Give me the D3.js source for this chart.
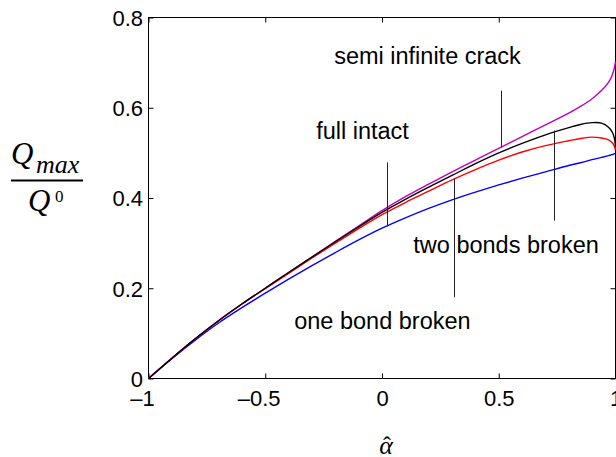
<!DOCTYPE html>
<html>
<head>
<meta charset="utf-8">
<script src="https://cdn.jsdelivr.net/npm/d3@7"></script>
<style>
  html, body { margin: 0; padding: 0; background: #fff; }
  svg { display: block; }
</style>
</head>
<body>
<svg id="chart" width="616" height="457"></svg>
<script>
// ---------- data ----------
const alphaHat = [-1, -0.9, -0.8, -0.7, -0.6, -0.5, -0.4, -0.3, -0.2, -0.1, 0, 0.1, 0.2, 0.3, 0.4, 0.5, 0.6, 0.7, 0.8, 0.85, 0.9, 0.94, 0.97, 0.985, 0.995, 1];

const semiInfiniteCrack = [0, 0.045, 0.088, 0.128, 0.165, 0.200, 0.235, 0.269, 0.304, 0.338, 0.372, 0.403, 0.431, 0.458, 0.484, 0.510, 0.536, 0.562, 0.588, 0.603, 0.620, 0.638, 0.656, 0.671, 0.688, 0.702];
const oneBondBroken     = [0, 0.044, 0.085, 0.123, 0.157, 0.189, 0.220, 0.250, 0.279, 0.307, 0.333, 0.356, 0.377, 0.396, 0.413, 0.429, 0.444, 0.458, 0.472, 0.478, 0.485, 0.490, 0.494, 0.496, 0.498, 0.499];
const twoBondsBroken    = [0, 0.045, 0.088, 0.128, 0.165, 0.199, 0.233, 0.267, 0.300, 0.332, 0.363, 0.390, 0.415, 0.440, 0.463, 0.484, 0.502, 0.516, 0.527, 0.532, 0.535, 0.533, 0.529, 0.523, 0.515, 0.506];
const fullIntact        = [0, 0.045, 0.088, 0.128, 0.165, 0.200, 0.235, 0.269, 0.303, 0.336, 0.368, 0.397, 0.424, 0.450, 0.476, 0.500, 0.521, 0.540, 0.556, 0.563, 0.567, 0.566, 0.557, 0.547, 0.533, 0.515];

const xTicks = [-1, -0.5, 0, 0.5, 1];
const yTicks = [0, 0.2, 0.4, 0.6, 0.8];

// annotation texts and leader lines (data coordinates)
const labelTexts = ["semi infinite crack", "full intact", "two bonds broken", "one bond broken"];
const labelX     = [-0.205, -0.282, 0.134, -0.376];
const labelY     = [0.698, 0.531, 0.2777, 0.110];
const leaderX    = [0.509, 0.021, 0.738, 0.308];
const leaderY0   = [0.638, 0.479, 0.5496, 0.4425];
const leaderY1   = [0.5126, 0.337, 0.350, 0.180];

// ---------- drawing ----------
const svg = d3.select("#chart");
const L = 148.5, R = 615.5, T = 17.5, B = 378.5;
const x = d3.scaleLinear().domain([-1, 1]).range([L, R]);
const y = d3.scaleLinear().domain([0, 0.8]).range([B, T]);

svg.append("rect").attr("width", 616).attr("height", 457).attr("fill", "#fff");

const tickFont = "'Liberation Sans', Arial, Helvetica, sans-serif";
const fmtX = d => (d < 0 ? "\u2013" : "") + d3.format("")(Math.abs(d));
const fmtY = d => d3.format("")(d);

const gx = svg.append("g").attr("transform", `translate(0,${B})`)
  .call(d3.axisBottom(x).tickValues(xTicks).tickFormat(fmtX).tickSize(-5).tickPadding(12));
const gxt = svg.append("g").attr("transform", `translate(0,${T})`)
  .call(d3.axisTop(x).tickValues(xTicks).tickFormat("").tickSize(-5));
const gy = svg.append("g").attr("transform", `translate(${L},0)`)
  .call(d3.axisLeft(y).tickValues(yTicks).tickFormat(fmtY).tickSize(-5).tickPadding(5.5));
const gyr = svg.append("g").attr("transform", `translate(${R},0)`)
  .call(d3.axisRight(y).tickValues(yTicks).tickFormat("").tickSize(-5));

[gx, gxt, gy, gyr].forEach(g => {
  g.select(".domain").remove();
  g.selectAll("line").attr("stroke", "#000").attr("stroke-width", 1);
  g.selectAll("text").attr("fill", "#000")
    .style("font-family", tickFont).style("font-size", "22px");
});

gx.selectAll("text").each(function(d) {
  if (d < 0) d3.select(this).attr("dx", "-0.3em");
});
gy.selectAll("text").attr("dy", "0.36em");

svg.append("rect").attr("x", L).attr("y", T).attr("width", R - L).attr("height", B - T)
  .attr("fill", "none").attr("stroke", "#000").attr("stroke-width", 1);

const series = [
  { values: semiInfiniteCrack, color: "#bf00bf" },
  { values: oneBondBroken,     color: "#0000ff" },
  { values: twoBondsBroken,    color: "#ff0000" },
  { values: fullIntact,        color: "#000000" }
];
const line = d3.line()
  .x((d, i) => x(alphaHat[i]))
  .y(d => y(d))
  .curve(d3.curveCatmullRom.alpha(0.5));

svg.append("g").selectAll("path").data(series).join("path")
  .attr("d", s => line(s.values))
  .attr("fill", "none")
  .attr("stroke", s => s.color)
  .attr("stroke-width", 1.4)
  .attr("stroke-linejoin", "round");

svg.append("g").selectAll("line").data(leaderX).join("line")
  .attr("x1", d => Math.round(x(d)) + 0.5).attr("x2", d => Math.round(x(d)) + 0.5)
  .attr("y1", (d, i) => y(leaderY0[i])).attr("y2", (d, i) => y(leaderY1[i]))
  .attr("stroke", "#222").attr("stroke-width", 1);

svg.append("g").selectAll("text").data(labelTexts).join("text")
  .attr("x", (d, i) => x(labelX[i]))
  .attr("y", (d, i) => y(labelY[i]))
  .attr("fill", "#000")
  .style("font-family", tickFont).style("font-size", "23.5px")
  .text(d => d);

const serif = "'Liberation Serif', 'Times New Roman', serif";
const yl = svg.append("g");
yl.append("text").attr("x", 11).attr("y", 163.5)
  .style("font-family", serif).style("font-style", "italic").style("font-size", "31px")
  .text("Q");
yl.append("text").attr("x", 36).attr("y", 172.5)
  .style("font-family", serif).style("font-style", "italic").style("font-size", "26px")
  .text("max");
yl.append("rect").attr("x", 11).attr("y", 179.5).attr("width", 72).attr("height", 2).attr("fill", "#000");
yl.append("text").attr("x", 28).attr("y", 211)
  .style("font-family", serif).style("font-style", "italic").style("font-size", "31px")
  .text("Q");
yl.append("text").attr("x", 55).attr("y", 201.5)
  .style("font-family", serif).style("font-size", "17px")
  .text("0");

const xl = svg.append("g");
xl.append("text").attr("x", 386).attr("y", 453.5).attr("text-anchor", "middle")
  .style("font-family", serif).style("font-style", "italic").style("font-size", "26px")
  .text("\u03b1");
xl.append("text").attr("x", 387).attr("y", 453).attr("text-anchor", "middle")
  .style("font-family", serif).style("font-size", "24px")
  .text("\u02c6");
</script>
</body>
</html>
